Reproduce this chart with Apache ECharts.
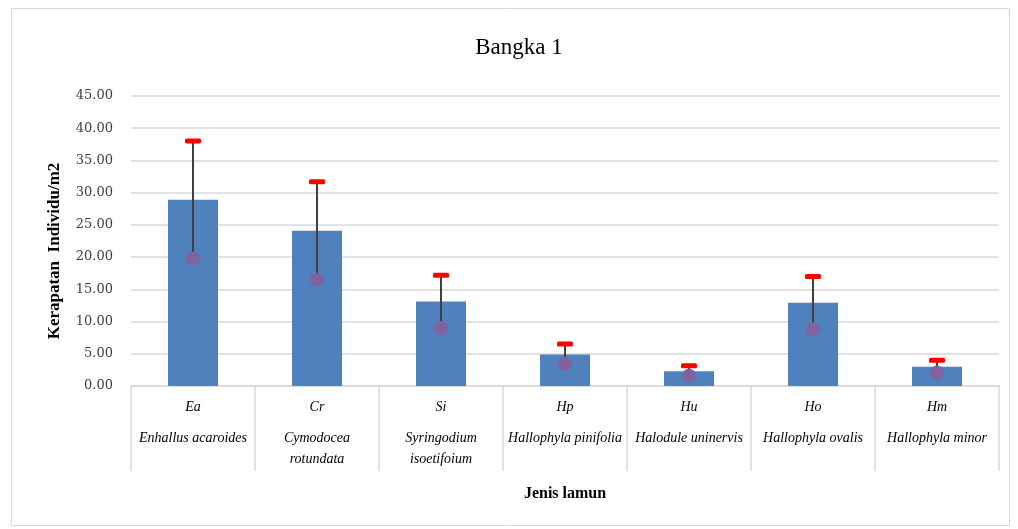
<!DOCTYPE html>
<html>
<head>
<meta charset="utf-8">
<script src="https://cdn.jsdelivr.net/npm/echarts@6/dist/echarts.min.js"></script>
<style>
html,body{margin:0;padding:0;background:#fff;}
#c{width:1018px;height:529px;}
</style>
</head>
<body>
<div id="c"></div>
<script>
const abbr = ['Ea','Cr','Si','Hp','Hu','Ho','Hm'];
const names = ['Enhallus acaroides','Cymodocea\nrotundata','Syringodium\nisoetifoium','Hallophyla pinifolia','Halodule uninervis','Hallophyla ovalis','Hallophyla minor'];
const density = [28.9, 24.1, 13.1, 4.9, 2.3, 12.9, 3.0];
const lowerVals = [19.8, 16.5, 9.0, 3.4, 1.6, 8.8, 2.1];
const upperVals = [38.0, 31.7, 17.2, 6.5, 3.15, 17.0, 4.0];
const yTicks = {min: 0, max: 45, interval: 5};

const chart = echarts.init(document.getElementById('c'));
const serif = '"Liberation Serif", "DejaVu Serif", serif';

const errData = abbr.map((a, i) => [i, lowerVals[i], upperVals[i]]);

chart.setOption({
  animation: false,
  backgroundColor: '#fff',
  graphic: [{
    type: 'rect', silent: true, z: -10,
    shape: {x: 11.5, y: 8.5, width: 998, height: 517},
    style: {fill: 'none', stroke: '#d9d9d9', lineWidth: 1}
  }],
  title: {
    text: 'Bangka 1', left: 514, top: 31, textAlign: 'center',
    textStyle: {fontFamily: serif, fontSize: 23, fontWeight: 'normal', color: '#000'}
  },
  grid: {left: 131, right: 19, top: 96, bottom: 143, containLabel: false},
  xAxis: {
    type: 'category',
    data: abbr,
    boundaryGap: true,
    name: 'Jenis lamun',
    nameLocation: 'middle',
    nameGap: 100,
    nameTextStyle: {fontFamily: serif, fontSize: 16, fontWeight: 'bold', color: '#000'},
    axisLine: {lineStyle: {color: '#d9d9d9', width: 1.5}},
    axisTick: {show: true, length: 85, alignWithLabel: false, lineStyle: {color: '#d9d9d9', width: 1.5}},
    axisLabel: {
      interval: 0,
      margin: 0,
      formatter: function (v, i) {
        const nm = names[i].split('\n').map(s => '{b|' + s + '}').join('\n');
        return '{a|' + v + '}\n' + nm;
      },
      rich: {
        a: {fontFamily: serif, fontSize: 14, fontStyle: 'italic', color: '#000', lineHeight: 42},
        b: {fontFamily: serif, fontSize: 14, fontStyle: 'italic', color: '#000', lineHeight: 21}
      }
    }
  },
  yAxis: {
    type: 'value',
    min: yTicks.min, max: yTicks.max, interval: yTicks.interval,
    name: 'Kerapatan  Individu/m2',
    nameLocation: 'middle',
    nameGap: 68,
    nameTextStyle: {fontFamily: serif, fontSize: 17, fontWeight: 'bold', color: '#000', padding: [0, 20, 0, 0]},
    axisLine: {show: false},
    axisTick: {show: false},
    axisLabel: {
      margin: 18,
      formatter: v => v.toFixed(2),
      fontFamily: '"DejaVu Serif", serif', fontSize: 13, color: '#404040'
    },
    splitLine: {lineStyle: {color: '#d9d9d9', width: 1.5}}
  },
  series: [
    {
      type: 'bar',
      data: density,
      barWidth: 50,
      itemStyle: {color: '#4f81bd'},
      z: 2
    },
    {
      type: 'custom',
      data: errData,
      z: 5,
      renderItem: function (params, api) {
        const x = api.value(0);
        const lo = api.coord([x, api.value(1)]);
        const hi = api.coord([x, api.value(2)]);
        return {
          type: 'group',
          children: [
            {type: 'line', shape: {x1: lo[0], y1: lo[1], x2: hi[0], y2: hi[1]},
             style: {stroke: '#404040', lineWidth: 2}},
            {type: 'rect', shape: {x: hi[0] - 8, y: hi[1] - 2.5, width: 16, height: 5, r: 1.5},
             style: {fill: '#ff0000'}},
            {type: 'circle', shape: {cx: lo[0], cy: lo[1], r: 7},
             style: {fill: '#80629f'}}
          ]
        };
      }
    }
  ]
});
</script>
</body>
</html>
